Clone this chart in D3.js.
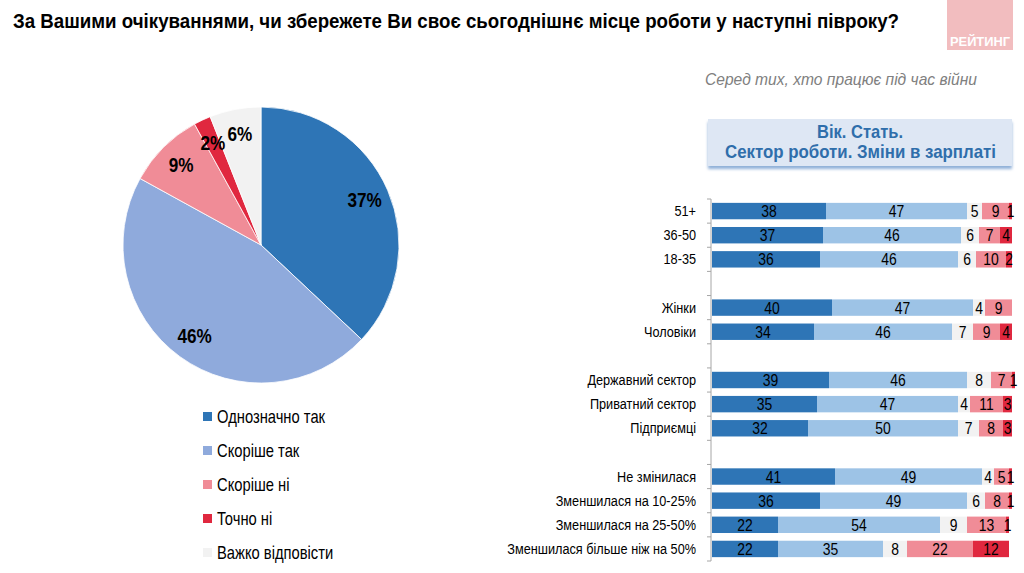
<!DOCTYPE html>
<html><head><meta charset="utf-8">
<script src="https://cdn.jsdelivr.net/npm/d3@7"></script>
<style>
body{margin:0;background:#fff;}
svg{display:block;}
text{font-family:"Liberation Sans",Arial,sans-serif;}
</style></head>
<body><svg id="c" width="1024" height="573"></svg>
<script>
// ---- data ----
const answers = ["Однозначно так","Скоріше так","Скоріше ні","Точно ні","Важко відповісти"];
const pieValues = [37,46,9,2,6];
const pieLabels = ["37%","46%","9%","2%","6%"];
const pieColors = ["#2E75B6","#8FAADC","#F08C97","#E0283F","#F2F2F2"];

const barCategories = ["51+","36-50","18-35","gap1","Жінки","Чоловіки","gap2","Державний сектор","Приватний сектор","Підприємці","gap3","Не змінилася","Зменшилася на 10-25%","Зменшилася на 25-50%","Зменшилася більше ніж на 50%"];
// order in bars: Однозначно так, Скоріше так, Важко відповісти, Скоріше ні, Точно ні
const barSeries = ["Однозначно так","Скоріше так","Важко відповісти","Скоріше ні","Точно ні"];
const barColors = ["#2E75B6","#9DC3E6","#F2F2F2","#F08C97","#E0283F"];
const sureYes   = [38,37,36,null,40,34,null,39,35,32,null,41,36,22,22];
const ratherYes = [47,46,46,null,47,46,null,46,47,50,null,49,49,54,35];
const hardSay   = [5,6,6,null,4,7,null,8,4,7,null,4,6,9,8];
const ratherNo  = [9,7,10,null,9,9,null,7,11,8,null,5,8,13,22];
const sureNo    = [1,4,2,null,0,4,null,1,3,3,null,1,1,1,12];

const titleText = "За Вашими очікуваннями, чи збережете Ви своє сьогоднішнє місце роботи у наступні півроку?";
const subtitleText = "Серед тих, хто працює під час війни";
const headerLines = ["Вік. Стать.","Сектор роботи. Зміни в зарплаті"];
const logoText = "РЕЙТИНГ";

const K = 0.82; // horizontal condense factor (Arial Narrow look)
const svg = d3.select("#c");

// narrow text helper: place text at (x,y) condensed horizontally
function nText(parent, x, y, k){
  return parent.append("text").attr("transform",`translate(${x},${y}) scale(${k},1)`);
}

// title
svg.append("text").attr("x",13).attr("y",28)
  .attr("font-size",21).attr("font-weight","bold").attr("fill","#000")
  .attr("textLength",886).attr("lengthAdjust","spacingAndGlyphs")
  .text(titleText);

// logo
svg.append("rect").attr("x",947).attr("y",0).attr("width",66).attr("height",50).attr("fill","#F2BDBF");
svg.append("text").attr("x",950).attr("y",46)
  .attr("font-size",13.5).attr("font-weight","bold").attr("fill","#fff")
  .attr("textLength",60).attr("lengthAdjust","spacingAndGlyphs").text(logoText);

// subtitle
svg.append("text").attr("x",705).attr("y",85)
  .attr("font-size",16.5).attr("font-style","italic").attr("fill","#808080")
  .attr("textLength",272).attr("lengthAdjust","spacingAndGlyphs")
  .text(subtitleText);

// header box
const defs = svg.append("defs");
const f = defs.append("filter").attr("id","sh").attr("x","-5%").attr("y","-20%").attr("width","110%").attr("height","150%");
f.append("feGaussianBlur").attr("in","SourceAlpha").attr("stdDeviation",1.6);
f.append("feOffset").attr("dy",2.5).attr("result","ob");
f.append("feFlood").attr("flood-color","#8FB0D8");
f.append("feComposite").attr("in2","ob").attr("operator","in");
const fm = f.append("feMerge"); fm.append("feMergeNode"); fm.append("feMergeNode").attr("in","SourceGraphic");
svg.append("rect").attr("x",708).attr("y",119).attr("width",304).attr("height",47)
  .attr("fill","#DEE7F4").attr("filter","url(#sh)");
svg.append("text").attr("x",817).attr("y",138)
  .attr("font-size",18.5).attr("font-weight","bold").attr("fill","#2F6EAB")
  .attr("textLength",86).attr("lengthAdjust","spacingAndGlyphs").text(headerLines[0]);
svg.append("text").attr("x",725).attr("y",158)
  .attr("font-size",18.5).attr("font-weight","bold").attr("fill","#2F6EAB")
  .attr("textLength",271).attr("lengthAdjust","spacingAndGlyphs").text(headerLines[1]);

// ---- pie ----
const cx = 261, cy = 245, R = 138;
const pie = d3.pie().sort(null).value(d=>d)(pieValues);
const arc = d3.arc().innerRadius(0).outerRadius(R);
const lab = d3.arc().innerRadius(113).outerRadius(113);
const pg = svg.append("g").attr("transform",`translate(${cx},${cy})`);
pg.selectAll("path").data(pie).join("path")
  .attr("d",arc).attr("fill",(d,i)=>pieColors[i]).attr("stroke","#fff").attr("stroke-width",0.8);
pg.selectAll("text").data(pie).join("text")
  .attr("transform",d=>`translate(${lab.centroid(d)}) scale(0.88,1)`)
  .attr("text-anchor","middle").attr("dy","0.36em")
  .attr("font-size",19.5).attr("font-weight","bold").attr("fill","#000")
  .text((d,i)=>pieLabels[i]);

// legend
const lg = svg.append("g");
const ly = d3.scalePoint().domain(answers).range([417,553]);
answers.forEach((a,i)=>{
  lg.append("rect").attr("x",203).attr("y",ly(a)-5).attr("width",9).attr("height",9).attr("fill",pieColors[i]);
  nText(lg,217,ly(a),K).attr("dy","0.35em")
    .attr("font-size",18).attr("fill","#000").text(a);
});

// ---- bars ----
const x = d3.scaleLinear().domain([0,100]).range([712,1012]);
const y = d3.scaleBand().domain(barCategories).range([199,561]).paddingInner(0.32).paddingOuter(0.16);
const seriesArr = [sureYes,ratherYes,hardSay,ratherNo,sureNo];
const rows = barCategories.map((c,i)=>{
  const o = {cat:c};
  barSeries.forEach((s,j)=>o[s]=seriesArr[j][i]||0);
  o.gap = seriesArr[0][i]===null;
  return o;
});
const stacked = d3.stack().keys(barSeries)(rows.filter(r=>!r.gap));
const bg = svg.append("g");
stacked.forEach((layer,j)=>{
  const g = bg.append("g");
  g.selectAll("rect").data(layer).join("rect")
    .attr("x",d=>x(d[0])).attr("width",d=>x(d[1])-x(d[0]))
    .attr("y",d=>y(d.data.cat)).attr("height",y.bandwidth())
    .attr("fill",barColors[j]);
  g.selectAll("text").data(layer.filter(d=>d[1]-d[0]>0)).join("text")
    .attr("transform",d=>`translate(${(x(d[0])+x(d[1]))/2},${y(d.data.cat)+y.bandwidth()/2}) scale(${K},1)`)
    .attr("dy","0.36em")
    .attr("text-anchor","middle").attr("font-size",17).attr("fill","#000")
    .text(d=>d[1]-d[0]);
});

// axis with category labels
const ax = svg.append("g").attr("transform","translate(711,0)")
  .call(d3.axisLeft(y).tickSize(0).tickPadding(15).tickFormat(d=>d.startsWith("gap")?"":d));
ax.select(".domain").remove();
ax.selectAll("text").attr("font-size",15.5).attr("fill","#000")
  .attr("x",-15/K).attr("transform",`scale(${K},1)`)
  .style("font-family",'"Liberation Sans",Arial,sans-serif');
const bounds = barCategories.map(c=>y(c)-y.step()*0.16).concat([561]);
svg.append("line").attr("x1",711).attr("x2",711).attr("y1",199).attr("y2",561).attr("stroke","#A6A6A6");
svg.selectAll(".bt").data(bounds).join("line").attr("class","bt")
  .attr("x1",707).attr("x2",711).attr("y1",d=>d).attr("y2",d=>d).attr("stroke","#A6A6A6");
</script></body></html>
